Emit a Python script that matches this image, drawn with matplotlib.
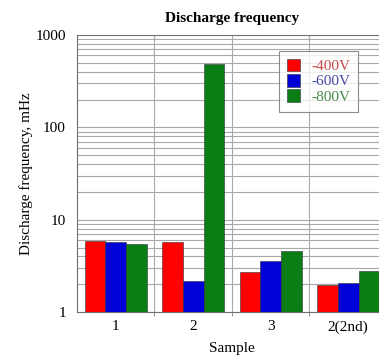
import matplotlib
matplotlib.use('Agg')
import matplotlib.pyplot as plt
import numpy as np
from matplotlib.ticker import FixedLocator, NullFormatter

plt.rcParams['font.family'] = 'Liberation Serif'

samples = ['1', '2', '3', '2(2nd)']
v400 = [5.9, 5.8, 2.7, 1.98]
v600 = [5.7, 2.18, 3.55, 2.08]
v800 = [5.5, 480, 4.6, 2.77]

series = [('-400V', v400, '#ff0000', '#c84848'),
          ('-600V', v600, '#0000d8', '#4848a8'),
          ('-800V', v800, '#0a7d14', '#4a8a4a')]

fig = plt.figure(figsize=(3.79, 3.6), dpi=100)
ax = fig.add_axes([0.203, 0.133, 0.818, 0.77])

x = np.arange(len(samples))
w = 0.267
for i, (lab, vals, col, tcol) in enumerate(series):
    ax.bar(x + (i - 1) * w, vals, width=w, color=col, edgecolor='#303030',
           linewidth=0.4, label=lab, zorder=3)

ax.set_yscale('log')
ax.set_ylim(1, 1000)
ax.set_xlim(-0.5, 3.5)
ax.set_xticks(x)
ax.set_xticklabels(samples, fontsize=11)
ax.xaxis.set_minor_locator(FixedLocator([0.5, 1.5, 2.5]))
ax.set_yticks([1, 10, 100, 1000])
ax.set_yticklabels(['1', '10', '100', '1000'], fontsize=11)
ax.yaxis.set_minor_formatter(NullFormatter())
ax.tick_params(axis='x', which='major', length=0, pad=6)
ax.tick_params(axis='x', which='minor', length=3, color='#808080')
ax.tick_params(axis='y', which='both', length=0, pad=8)
ax.grid(True, which='both', axis='y', color='#a8a8a8', linewidth=0.8, zorder=0)
ax.grid(True, which='minor', axis='x', color='#a8a8a8', linewidth=0.8, zorder=0)
for s in ax.spines.values():
    s.set_color('#707070')

ax.set_title('Discharge frequency', fontsize=11, fontweight='bold', pad=9)
ax.set_xlabel('Sample', fontsize=11, labelpad=6)
ax.set_ylabel('Discharge frequency, mHz', fontsize=11, labelpad=2)

leg = ax.legend(loc='upper right', bbox_to_anchor=(0.93, 0.97), fontsize=11,
                frameon=True, fancybox=False, edgecolor='#707070',
                handlelength=0.9, handleheight=0.9, handletextpad=0.7,
                labelspacing=0.05, borderpad=0.5)
leg.get_frame().set_linewidth(0.8)
for t, s in zip(leg.get_texts(), series):
    t.set_color(s[3])

fig.savefig('out.png', dpi=100)
